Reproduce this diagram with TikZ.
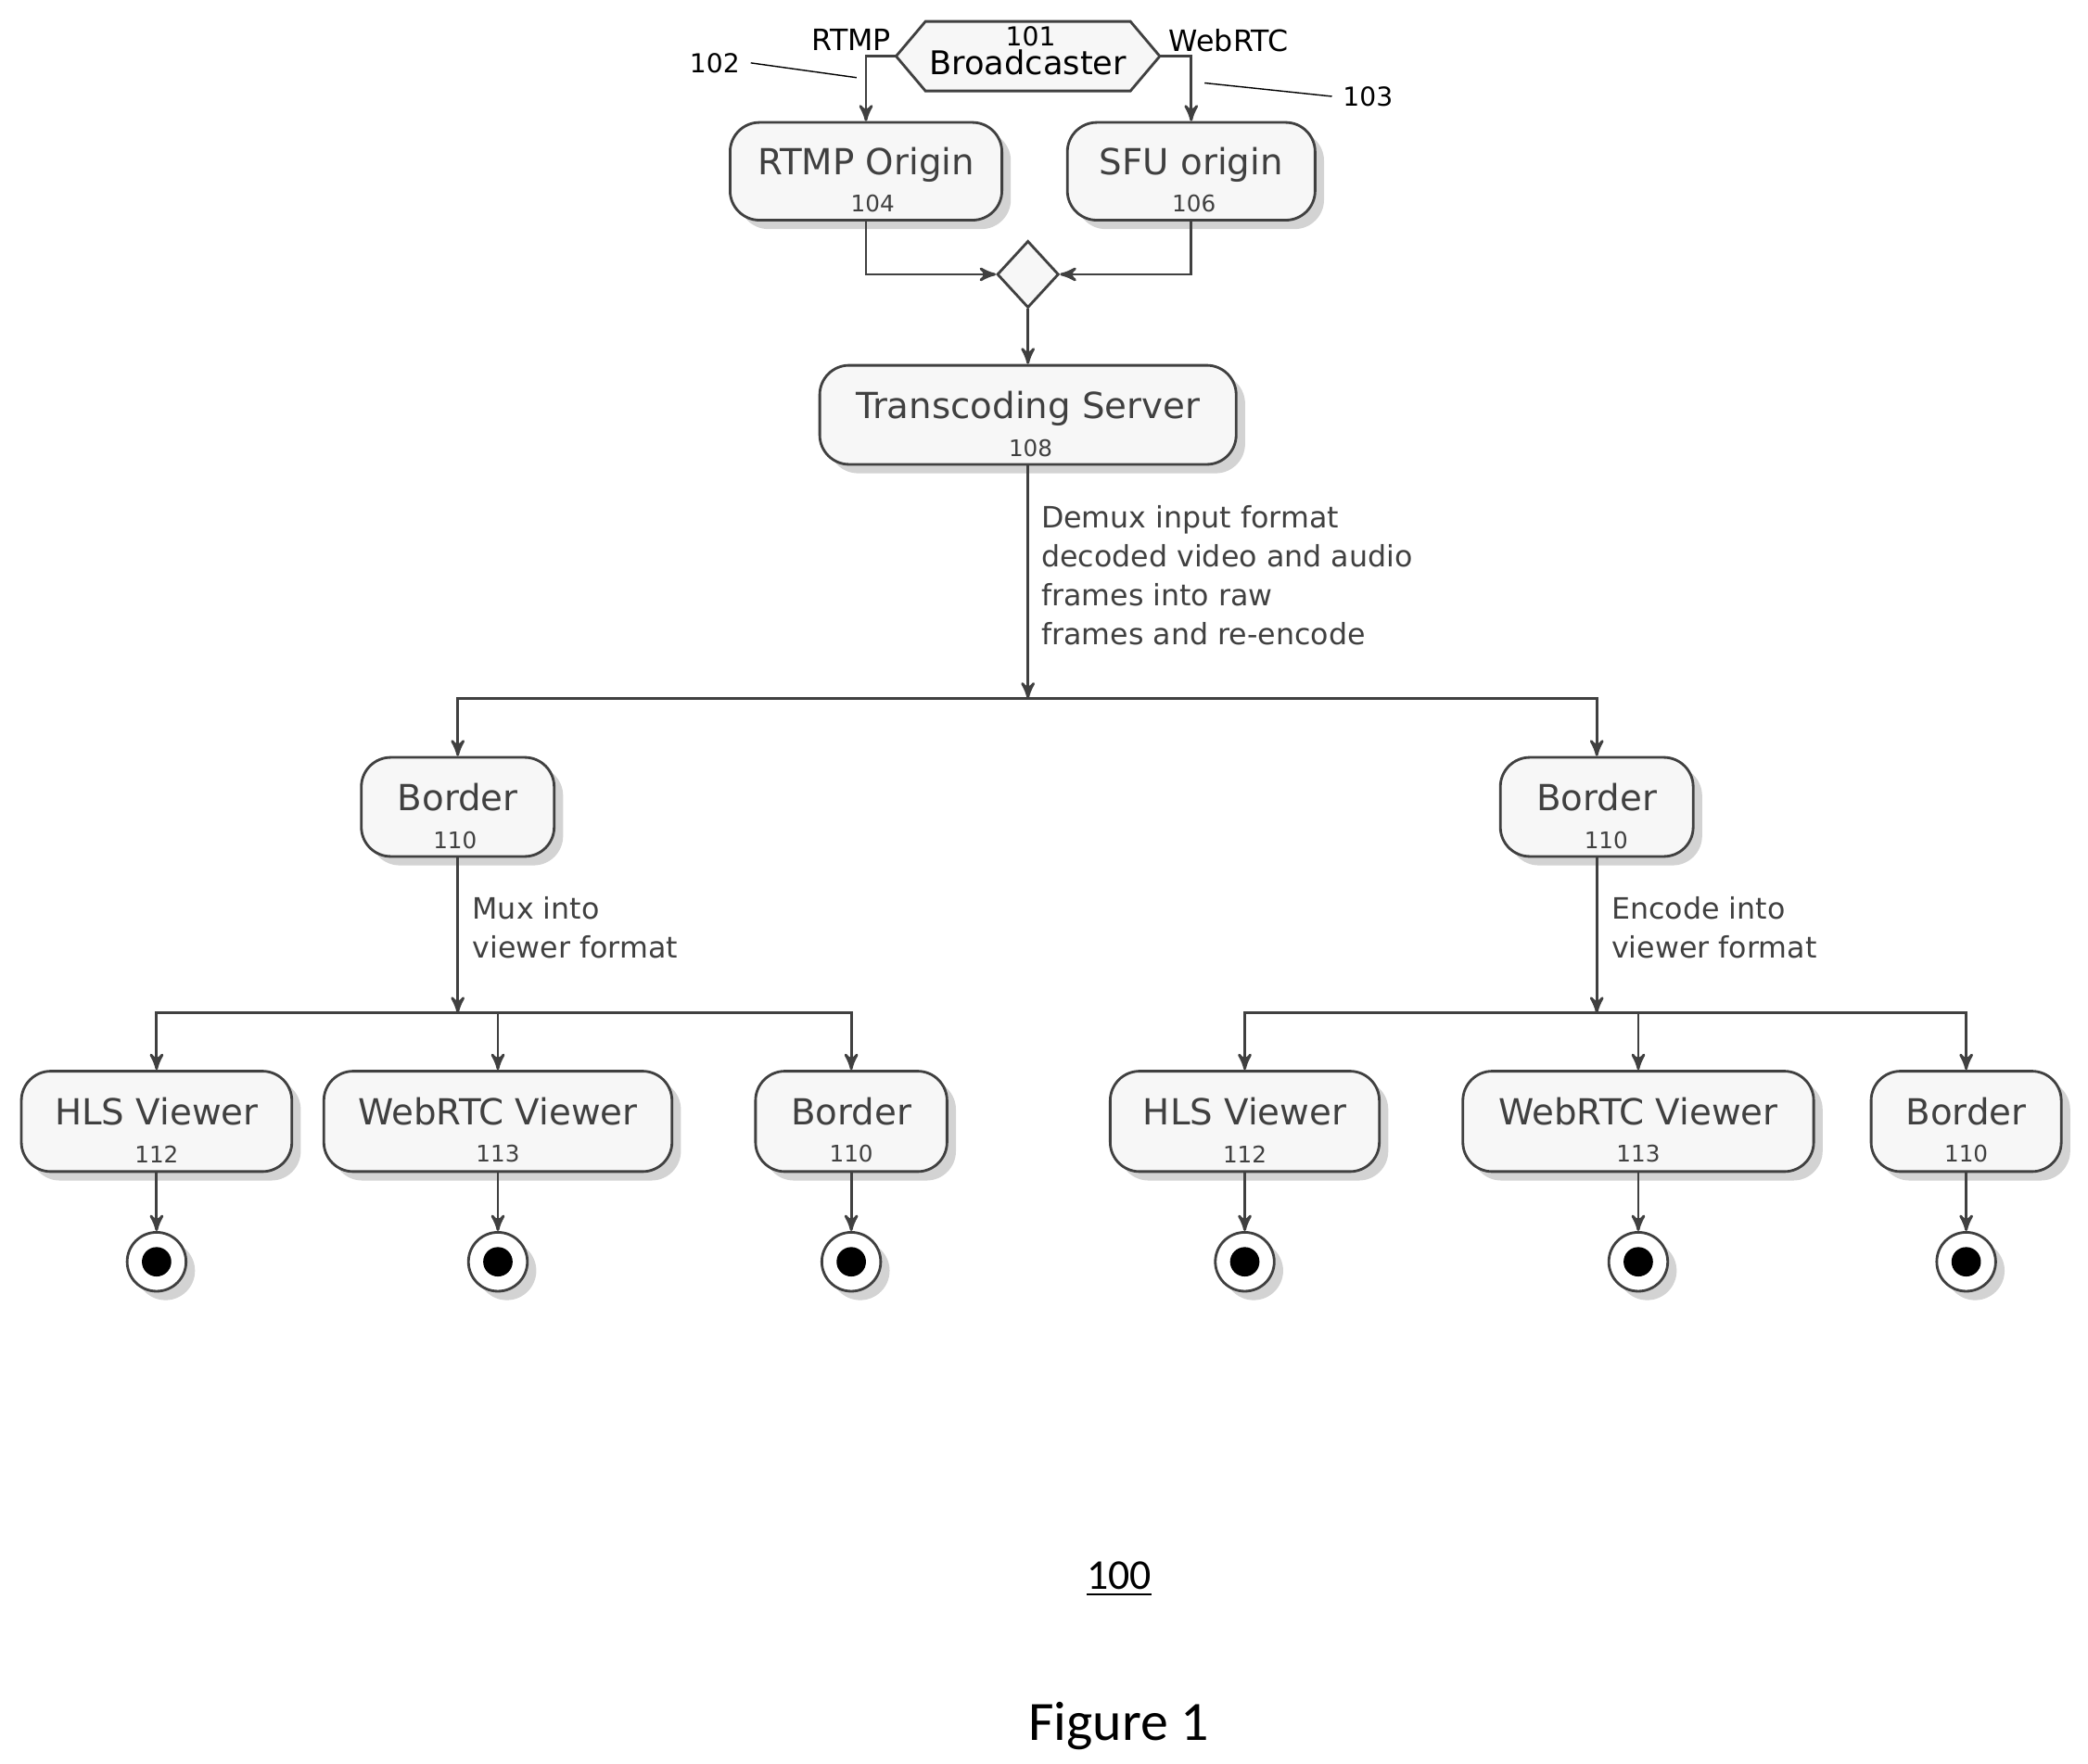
\documentclass[tikz,border=0pt]{standalone}
\usepackage{fontspec}
\setmainfont{DejaVu Sans}
\newfontfamily\capfont{Carlito}
\usetikzlibrary{arrows,positioning,shapes,shadows}
\newcommand\pxu{0.41pt}

\begin{document}
\begin{tikzpicture}[x=0.0144cm,y=-0.0144cm,
            act/.style={draw,thick,draw=black!75,rounded corners=9pt,fill=gray!6,drop shadow={opacity=.35},inner sep=0pt,font=\fontsize{11}{12}\selectfont},
            num/.style={font=\fontsize{7}{8}\selectfont,inner sep=0pt},
            lab/.style={font=\fontsize{9}{12}\selectfont,align=left,anchor=west,inner sep=0pt},
            stop/.style={circle,draw,thick,draw=black!75,fill=white,minimum size={44*\pxu},inner sep=0pt,drop shadow={opacity=.35}},
            every path/.style={thick,>=stealth',color=black!75}
          ]
          \useasboundingbox (0,0) rectangle (1560,1318);
          %broadcaster
          \node[minimum width={195*\pxu},minimum height={50*\pxu},inner sep=0pt] (101) at (768,42) {};
          \draw[fill=gray!6] (101.west) -- ([xshift=9pt]101.north west) -- ([xshift=-9pt]101.north east)
            -- (101.east) -- ([xshift=-9pt]101.south east) -- ([xshift=9pt]101.south west) -- cycle;
          \node[num,font=\fontsize{8}{9}\selectfont,black] at (770,27) {101};
          \node[font=\fontsize{10}{11}\selectfont,inner sep=0pt,black] at (768,47) {Broadcaster};
          \node[font=\fontsize{9}{10}\selectfont,black] (rtmp) at (636,30) {RTMP};
          \node[font=\fontsize{9}{10}\selectfont,black] (webrtc) at (918,30) {WebRTC};
          \node[num,font=\fontsize{8}{9}\selectfont,black] (102) at (534,47) {102};
          \node[num,font=\fontsize{8}{9}\selectfont,black] (103) at (1022,72) {103};
          \coordinate (c102) at (640,58);
          \coordinate (c103) at (900,62);
          \draw[thin,black] ([xshift=3pt]102.east) -- (c102);
          \draw[thin,black] ([xshift=-3pt]103.west) -- (c103);

          %origins
          \node[act,minimum width={203*\pxu},minimum height={73*\pxu}] (104) at (647,128) {\raisebox{6pt}{RTMP Origin}};
          \node[num] at (652,152) {104};
          \node[act,minimum width={185*\pxu},minimum height={73*\pxu}] (106) at (890,128) {\raisebox{6pt}{SFU origin}};
          \node[num] at (892,152) {106};
          \draw[->] (101.west) -| (104.north);
          \draw[->] (101.east) -| (106.north);

          \node[draw,thick,diamond,fill=gray!6,minimum width={46*\pxu},minimum height={50*\pxu},inner sep=0pt] (merge) at (768,205) {};
          \draw[->] (104.south) |- (merge.west);
          \draw[->] (106.south) |- (merge.east);

          %transcoding
          \node[act,minimum width={311*\pxu},minimum height={74*\pxu}] (108) at (768,310) {\raisebox{6pt}{Transcoding Server}};
          \node[num] at (770,335) {108};
          \draw[->] (merge.south) -- (108.north);
          \coordinate (split) at (768,522);
          \draw[->] (108.south) -- (split);
          \node[lab] at (777,430) {Demux input format\\decoded video and audio\\frames into raw\\frames and re-encode};

          %borders
          \node[act,minimum width={144*\pxu},minimum height={74*\pxu}] (110a) at (342,603) {\raisebox{6pt}{Border}};
          \node[num] at (340,628) {110};
          \node[act,minimum width={144*\pxu},minimum height={74*\pxu}] (110b) at (1193,603) {\raisebox{6pt}{Border}};
          \node[num] at (1200,628) {110};
          \draw[->] (split) -| (110a.north);
          \draw[->] (split) -| (110b.north);

          \coordinate (splita) at (342,757);
          \coordinate (splitb) at (1193,757);
          \draw[->] (110a.south) -- (splita);
          \draw[->] (110b.south) -- (splitb);
          \node[lab] at (352,693) {Mux into\\viewer format};
          \node[lab] at (1203,693) {Encode into\\viewer format};

          %viewers
          \node[act,minimum width={202*\pxu},minimum height={75*\pxu}] (112a) at (117,838) {\raisebox{6pt}{HLS Viewer}};
          \node[act,minimum width={260*\pxu},minimum height={75*\pxu}] (113a) at (372,838) {\raisebox{6pt}{WebRTC Viewer}};
          \node[act,minimum width={143*\pxu},minimum height={75*\pxu}] (110c) at (636,838) {\raisebox{6pt}{Border}};
          \node[act,minimum width={201*\pxu},minimum height={75*\pxu}] (112b) at (930,838) {\raisebox{6pt}{HLS Viewer}};
          \node[act,minimum width={262*\pxu},minimum height={75*\pxu}] (113b) at (1224,838) {\raisebox{6pt}{WebRTC Viewer}};
          \node[act,minimum width={142*\pxu},minimum height={75*\pxu}] (110d) at (1469,838) {\raisebox{6pt}{Border}};
          \foreach \n/\t in {112a/112,113a/113,110c/110,112b/112,113b/113,110d/110} {
            \node[num] at ([yshift=-10pt]\n.center) {\t};
            \node[stop] (end\n) at ([yshift=-43pt]\n.center) {};
            \fill[black] (end\n.center) circle (4.5pt);
            \draw[->] (\n.south) -- (end\n.north);
          }
          \foreach \n in {112a,113a,110c} \draw[->] (splita) -| (\n.north);
          \foreach \n in {112b,113b,110d} \draw[->] (splitb) -| (\n.north);

          \node[font=\fontsize{13}{14}\selectfont\capfont,black] at (836,1180) {\underline{100}};
          \node[font=\fontsize{17}{18}\selectfont\capfont,black] at (836,1290) {Figure 1};
\end{tikzpicture}
\end{document}
